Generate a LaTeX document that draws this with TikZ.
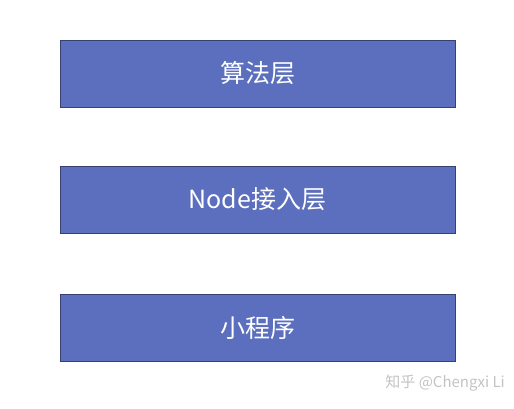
\documentclass[tikz,border=0pt]{standalone}
\usepackage{fontspec}
\setmainfont{Noto Sans CJK SC}
\definecolor{boxfill}{RGB}{91,111,190}
\definecolor{boxline}{RGB}{55,66,112}
\definecolor{wm}{RGB}{195,195,195}
\begin{document}
\begin{tikzpicture}[x=1pt,y=-1pt,
  layerbox/.style={draw=boxline,line width=1pt,fill=boxfill,text=white,minimum width=395pt,minimum height=67pt,inner sep=0pt,font=\fontsize{25}{29}\selectfont}]
\useasboundingbox (0,0) rectangle (514,408);
\node[layerbox] (alg) at (257.5,73.5) {算法层};
\node[layerbox] (node) at (257.5,199.5) {Node接入层};
\node[layerbox] (mini) at (257.5,327.5) {小程序};
\node[text=wm,font=\fontsize{15}{17}\selectfont,anchor=east,inner sep=0pt] (mark) at (505,383) {知乎 @Chengxi Li};
\end{tikzpicture}
\end{document}
